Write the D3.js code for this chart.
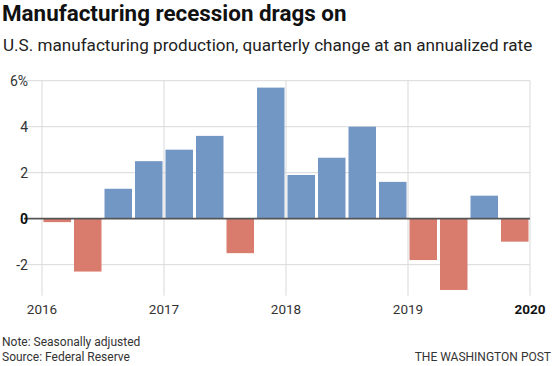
<!DOCTYPE html>
<html>
<head>
<meta charset="utf-8">
<script src="https://cdn.jsdelivr.net/npm/d3@7"></script>
<style>
  body { margin: 0; background: #fff; }
  svg { display: block; font-family: Roboto, "Liberation Sans", sans-serif; }
</style>
</head>
<body>
<svg id="chart" width="560" height="366"></svg>
<script>
// Quarterly data, 2016 Q1 .. 2019 Q4
var quarters = ["2016Q1","2016Q2","2016Q3","2016Q4",
                "2017Q1","2017Q2","2017Q3","2017Q4",
                "2018Q1","2018Q2","2018Q3","2018Q4",
                "2019Q1","2019Q2","2019Q3","2019Q4"];
var changes = [-0.15, -2.3, 1.3, 2.5,
               3.0, 3.6, -1.5, 5.7,
               1.9, 2.65, 4.0, 1.6,
               -1.8, -3.1, 1.0, -1.0];
var yTicks = [-2, 0, 2, 4, 6];
var yearTicks = [2016, 2017, 2018, 2019, 2020];

var svg = d3.select("#chart");

// Title and subtitle
svg.append("text")
  .attr("x", 2).attr("y", 21)
  .style("font-size", "22.4px")
  .style("font-weight", "bold")
  .attr("fill", "#111")
  .text("Manufacturing recession drags on");
svg.append("text")
  .attr("x", 3).attr("y", 51)
  .style("font-size", "17.1px")
  .attr("fill", "#222")
  .text("U.S. manufacturing production, quarterly change at an annualized rate");

// Scales
var x = d3.scaleLinear().domain([2016, 2020]).range([42, 530]);
var y = d3.scaleLinear().domain([-3.35, 6]).range([295.7, 80.7]);

// Horizontal gridlines
svg.append("g")
  .selectAll("line")
  .data(yTicks.filter(d => d !== 0))
  .enter().append("line")
    .attr("x1", 24).attr("x2", x(2020))
    .attr("y1", d => y(d)).attr("y2", d => y(d))
    .attr("stroke", "#d9d9d9")
    .attr("stroke-width", 1);

// Vertical gridlines at years
svg.append("g")
  .selectAll("line")
  .data(yearTicks)
  .enter().append("line")
    .attr("x1", d => x(d)).attr("x2", d => x(d))
    .attr("y1", y(6)).attr("y2", y(-3.35))
    .attr("stroke", "#d9d9d9")
    .attr("stroke-width", 1);

// Bars
var step = x(2016.25) - x(2016);
svg.append("g")
  .selectAll("rect")
  .data(changes)
  .enter().append("rect")
    .attr("x", (d, i) => x(2016 + i / 4) + 1.5)
    .attr("width", step - 3)
    .attr("y", d => y(Math.max(0, d)))
    .attr("height", d => Math.abs(y(d) - y(0)))
    .attr("fill", d => d >= 0 ? "#7297c5" : "#d97c6e");

// Zero line
svg.append("line")
  .attr("x1", 24).attr("x2", x(2020))
  .attr("y1", y(0)).attr("y2", y(0))
  .attr("stroke", "#555")
  .attr("stroke-width", 1.6);

// Y labels
svg.append("g")
  .selectAll("text")
  .data(yTicks)
  .enter().append("text")
    .attr("x", 28)
    .attr("y", d => y(d) + 5)
    .attr("text-anchor", "end")
    .style("font-size", "14px")
    .style("font-weight", d => d === 0 ? "bold" : "normal")
    .attr("fill", d => d === 0 ? "#111" : "#333")
    .text(d => d === 6 ? "6%" : d);

// Year labels
svg.append("g")
  .selectAll("text")
  .data(yearTicks)
  .enter().append("text")
    .attr("x", d => x(d))
    .attr("y", 314)
    .attr("text-anchor", "middle")
    .style("font-size", "13.5px")
    .style("font-weight", d => d === 2020 ? "bold" : "normal")
    .attr("fill", d => d === 2020 ? "#111" : "#333")
    .text(d => d);

// Footer
svg.append("text")
  .attr("x", 2).attr("y", 346)
  .style("font-size", "12px").attr("fill", "#333")
  .text("Note: Seasonally adjusted");
svg.append("text")
  .attr("x", 2).attr("y", 361)
  .style("font-size", "12px").attr("fill", "#333")
  .text("Source: Federal Reserve");
svg.append("text")
  .attr("x", 551).attr("y", 361)
  .attr("text-anchor", "end")
  .style("font-size", "12px").attr("fill", "#333")
  .text("THE WASHINGTON POST");
</script>
</body>
</html>
